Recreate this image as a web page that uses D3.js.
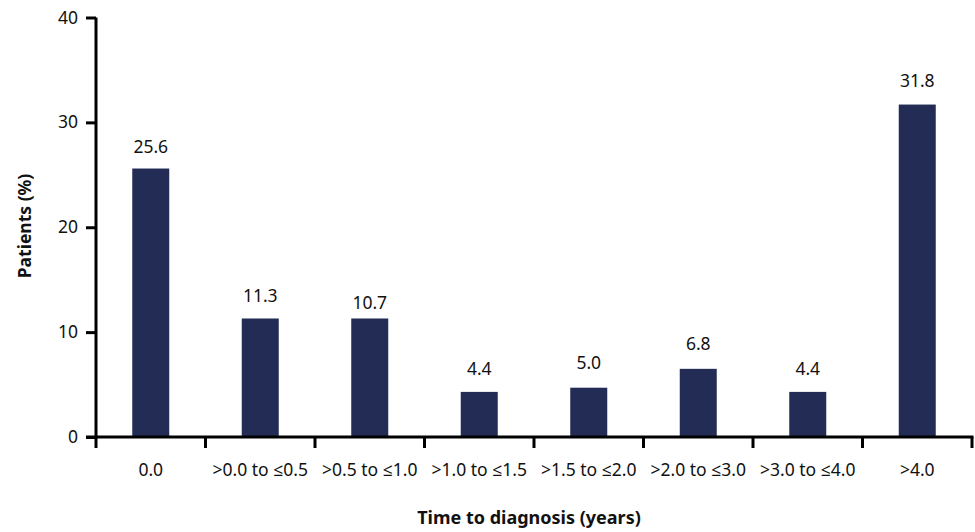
<!DOCTYPE html>
<html>
<head>
<meta charset="utf-8">
<script src="https://cdn.jsdelivr.net/npm/d3@7"></script>
<style>
  html, body { margin: 0; padding: 0; background: #fff; }
  svg { display: block; }
  text { font-family: "Noto Sans", "Open Sans", sans-serif; fill: #111; }
</style>
</head>
<body>
<script>
const categories = ["0.0", ">0.0 to \u22640.5", ">0.5 to \u22641.0", ">1.0 to \u22641.5", ">1.5 to \u22642.0", ">2.0 to \u22643.0", ">3.0 to \u22644.0", ">4.0"];
// bar heights as drawn in the picture
const barValues = [25.6, 11.3, 11.3, 4.3, 4.7, 6.5, 4.3, 31.7];
// value labels printed above the bars
const labelValues = [25.6, 11.3, 10.7, 4.4, 5.0, 6.8, 4.4, 31.8];
const yTicks = [0, 10, 20, 30, 40];
const xTitle = "Time to diagnosis (years)";
const yTitle = "Patients (%)";

const W = 975, H = 532;
const mLeft = 96, mRight = 972, mTop = 17.5, mBottom = 437;
const barColor = "#222c55";

const svg = d3.select("body").append("svg").attr("width", W).attr("height", H);

const xb = d3.scaleBand().domain(categories).range([mLeft, mRight]).padding(0);
const y = d3.scaleLinear().domain([0, 40]).range([mBottom, mTop]);
const barW = 37;

// bars
svg.append("g").selectAll("rect").data(categories).join("rect")
  .attr("x", d => xb(d) + xb.bandwidth() / 2 - barW / 2)
  .attr("width", barW)
  .attr("y", (d, i) => y(barValues[i]))
  .attr("height", (d, i) => y(0) - y(barValues[i]))
  .attr("fill", barColor);

// value labels
svg.append("g").selectAll("text").data(categories).join("text")
  .attr("x", d => xb(d) + xb.bandwidth() / 2)
  .attr("y", (d, i) => y(labelValues[i]) - 16)
  .attr("text-anchor", "middle")
  .style("font-size", "17.5px")
  .text((d, i) => labelValues[i].toFixed(1));

// y axis
const yAxis = svg.append("g").attr("transform", `translate(${mLeft},0)`)
  .call(d3.axisLeft(y).tickValues(yTicks).tickSize(10).tickPadding(8).tickFormat(d3.format("d")));
yAxis.select(".domain").attr("d", `M0,${mTop}V${mBottom + 1.5}`).attr("stroke", "#000").attr("stroke-width", 3);
yAxis.selectAll(".tick line").attr("stroke", "#000").attr("stroke-width", 3);
yAxis.selectAll(".tick text").style("font-size", "17.5px").style("font-family", "'Noto Sans', sans-serif").attr("fill", "#111");

// x axis: ticks at band boundaries
const xg = svg.append("g");
xg.append("line").attr("x1", mLeft - 10).attr("x2", mRight + 1.5).attr("y1", mBottom).attr("y2", mBottom)
  .attr("stroke", "#000").attr("stroke-width", 3);
const boundaries = categories.map(c => xb(c)).concat([xb(categories[categories.length - 1]) + xb.bandwidth()]);
xg.selectAll("line.t").data(boundaries).join("line").attr("class", "t")
  .attr("x1", d => d).attr("x2", d => d).attr("y1", mBottom).attr("y2", mBottom + 11)
  .attr("stroke", "#000").attr("stroke-width", 3);
xg.selectAll("text").data(categories).join("text")
  .attr("x", d => xb(d) + xb.bandwidth() / 2)
  .attr("y", 475.5)
  .attr("text-anchor", "middle")
  .style("font-size", "17.5px")
  .text(d => d);

// titles
svg.append("text").attr("x", 529).attr("y", 524)
  .attr("text-anchor", "middle").style("font-size", "18px").style("font-weight", "bold")
  .text(xTitle);
svg.append("text").attr("transform", "translate(31,226) rotate(-90)")
  .attr("text-anchor", "middle").style("font-size", "17.5px").style("font-weight", "bold")
  .text(yTitle);
</script>
</body>
</html>
